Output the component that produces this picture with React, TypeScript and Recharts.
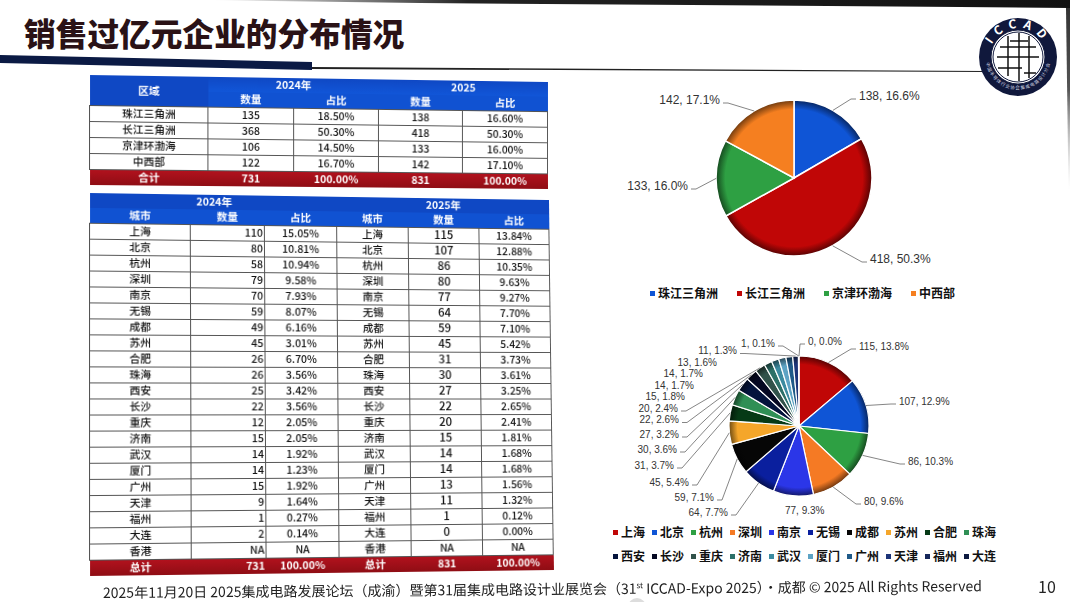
import React from "react"
import { Cell, Legend, Pie, PieChart } from "recharts"

const FONT = '"Noto Sans CJK SC", "Noto Sans", sans-serif'
const LABEL_FONT = '"Liberation Sans", sans-serif'

// region table + pie
const regions = ["珠江三角洲", "长江三角洲", "京津环渤海", "中西部"]
const regionCount2024 = ["135", "368", "106", "122"]
const regionShare2024 = ["18.50%", "50.30%", "14.50%", "16.70%"]
const regionCount2025 = [138, 418, 133, 142]
const regionShare2025 = ["16.60%", "50.30%", "16.00%", "17.10%"]

// city table + pie
const cities = ["上海", "北京", "杭州", "深圳", "南京", "无锡", "成都", "苏州", "合肥", "珠海", "西安", "长沙", "重庆", "济南", "武汉", "厦门", "广州", "天津", "福州", "大连"]
const cityCount2024 = [110, 80, 58, 79, 70, 59, 49, 45, 26, 26, 25, 22, 12, 15, 14, 14, 15, 9, 1, 2]
const cityShare2024 = ["15.05%", "10.81%", "10.94%", "9.58%", "7.93%", "8.07%", "6.16%", "3.01%", "6.70%", "3.56%", "3.42%", "3.56%", "2.05%", "2.05%", "1.92%", "1.23%", "1.92%", "1.64%", "0.27%", "0.14%"]
const cityCount2025 = [115, 107, 86, 80, 77, 64, 59, 45, 31, 30, 27, 22, 20, 15, 14, 14, 13, 11, 1, 0]
const cityShare2025 = ["13.84%", "12.88%", "10.35%", "9.63%", "9.27%", "7.70%", "7.10%", "5.42%", "3.73%", "3.61%", "3.25%", "2.65%", "2.41%", "1.81%", "1.68%", "1.68%", "1.56%", "1.32%", "0.12%", "0.00%"]

const regionColors = ["#0f55d6", "#c00606", "#2ea043", "#f57f20"]
const cityColors = ["#c00606", "#0f55d6", "#2ea043", "#f57a24", "#2b36e8", "#0a1f9e", "#060606", "#f5a62a", "#063a16", "#2f8f55", "#04143c", "#050822", "#31524a", "#2c7068", "#3c8ba0", "#5da3c4", "#1f5a88", "#1c3478", "#16275a", "#0e1a40"]

// label offset from the pie centre: dx, dy, text anchor, leader line
const regionLabels = [
  [65, -82, "start", true],
  [76, 81, "start", true],
  [-106, 8, "end", true],
  [-74, -78, "end", true],
]
const cityLabels = [
  [60, -80, "start", true],
  [100, -25, "start", true],
  [109, 35, "start", true],
  [65, 75, "start", true],
  [-14, 84, "start", false],
  [-71, 86, "end", true],
  [-85, 71, "end", true],
  [-110, 56, "end", true],
  [-125, 39, "end", true],
  [-122, 23, "end", true],
  [-120, 8, "end", true],
  [-120, -6.5, "end", true],
  [-121, -18, "end", true],
  [-114, -29.5, "end", false],
  [-105, -41, "end", false],
  [-96, -52.5, "end", false],
  [-82, -64, "end", false],
  [-62, -75.5, "end", true],
  [-24, -83, "end", true],
  [9, -85, "start", true],
]

function darker(hex: string) {
  const n = parseInt(hex.slice(1), 16)
  const part = (v: number) => Math.round(v * 0.45).toString(16).padStart(2, "0")
  return `#${part((n >> 16) & 255)}${part((n >> 8) & 255)}${part(n & 255)}`
}

// maps a w x h box on to a slightly keystoned quad, the tables were photographed off a screen
function quadMatrix(w: number, h: number, q: number[][]) {
  const [[x0, y0], [x1, y1], [x2, y2], [x3, y3]] = q
  const dx1 = x1 - x2, dx2 = x3 - x2, dx3 = x0 - x1 + x2 - x3
  const dy1 = y1 - y2, dy2 = y3 - y2, dy3 = y0 - y1 + y2 - y3
  const den = dx1 * dy2 - dx2 * dy1
  const g = (dx3 * dy2 - dx2 * dy3) / den
  const k = (dx1 * dy3 - dx3 * dy1) / den
  const a = x1 - x0 + g * x1, b = x3 - x0 + k * x3
  const d = y1 - y0 + g * y1, e = y3 - y0 + k * y3
  return `matrix3d(${[a / w, d / w, 0, g / w, b / h, e / h, 0, k / h, 0, 0, 1, 0, x0, y0, 0, 1].join(",")})`
}

const line = "1px solid #555"
const headStyle: React.CSSProperties = { color: "#fff", fontWeight: 700, padding: 0, textAlign: "center", lineHeight: 1 }
const cellStyle: React.CSSProperties = { border: line, padding: 0, textAlign: "center", lineHeight: 1, color: "#111", fontWeight: 500, overflow: "hidden" }
const totalStyle: React.CSSProperties = { color: "#fff", fontWeight: 700, padding: 0, textAlign: "center", lineHeight: 1 }
const blue = "linear-gradient(180deg,#0f48c4,#1156d8)"
const red = "linear-gradient(180deg,#b3121e,#8f0d14)"

function TableBox({ w, h, quad, widths, fontSize, children }: any) {
  return (
    <div style={{ position: "absolute", left: 0, top: 0, width: w, height: h, transformOrigin: "0 0", transform: quadMatrix(w, h, quad) }}>
      <table style={{ width: w, height: h, tableLayout: "fixed", borderCollapse: "collapse", fontFamily: FONT, fontSize }}>
        <colgroup>
          {widths.map((cw: number, i: number) => <col key={i} style={{ width: cw }} />)}
        </colgroup>
        <tbody>{children}</tbody>
      </table>
    </div>
  )
}

function RegionTable() {
  return (
    <TableBox w={458} h={110} widths={[116, 85, 85, 85, 87]} fontSize={10.5}
      quad={[[89, 75], [547, 82], [547, 189], [89, 185]]}>
      <tr style={{ height: 15, background: blue }}>
        <td rowSpan={2} style={{ ...headStyle, background: "#0f48c4" }}>区域</td>
        <td colSpan={2} style={headStyle}>2024年</td>
        <td colSpan={2} style={headStyle}>2025</td>
      </tr>
      <tr style={{ height: 15, background: "#1052d2" }}>
        {["数量", "占比", "数量", "占比"].map((t, i) => <td key={i} style={headStyle}>{t}</td>)}
      </tr>
      {regions.map((r, i) => (
        <tr key={r} style={{ height: 16 }}>
          <td style={cellStyle}>{r}</td>
          <td style={cellStyle}>{regionCount2024[i]}</td>
          <td style={cellStyle}>{regionShare2024[i]}</td>
          <td style={cellStyle}>{regionCount2025[i]}</td>
          <td style={cellStyle}>{regionShare2025[i]}</td>
        </tr>
      ))}
      <tr style={{ height: 16, background: red }}>
        {["合计", "731", "100.00%", "831", "100.00%"].map((t, i) => <td key={i} style={totalStyle}>{t}</td>)}
      </tr>
    </TableBox>
  )
}

function CityTable() {
  const right: React.CSSProperties = { ...cellStyle, textAlign: "right", paddingRight: 1 }
  return (
    <TableBox w={459} h={382} widths={[98, 73, 72, 72, 72, 72]} fontSize={10.5}
      quad={[[89, 193], [548, 200], [553, 570], [89, 576]]}>
      <tr style={{ height: 15, background: "#0f48c4" }}>
        <td style={headStyle} />
        <td style={{ ...headStyle, textAlign: "left", paddingLeft: 6 }}>2024年</td>
        <td style={headStyle} />
        <td style={headStyle} />
        <td style={headStyle}>2025年</td>
        <td style={headStyle} />
      </tr>
      <tr style={{ height: 15, background: "#1052d2" }}>
        {["城市", "数量", "占比", "城市", "数量", "占比"].map((t, i) => <td key={i} style={headStyle}>{t}</td>)}
      </tr>
      {cities.map((c, i) => (
        <tr key={c} style={{ height: 16 }}>
          <td style={cellStyle}>{c}</td>
          <td style={right}>{cityCount2024[i]}</td>
          <td style={cellStyle}>{cityShare2024[i]}</td>
          <td style={cellStyle}>{c}</td>
          <td style={{ ...cellStyle, fontSize: 11.5 }}>{cityCount2025[i]}</td>
          <td style={cellStyle}>{cityShare2025[i]}</td>
        </tr>
      ))}
      <tr style={{ height: 16 }}>
        <td style={cellStyle}>香港</td>
        <td style={right}>NA</td>
        <td style={cellStyle}>NA</td>
        <td style={cellStyle}>香港</td>
        <td style={cellStyle}>NA</td>
        <td style={cellStyle}>NA</td>
      </tr>
      <tr style={{ height: 16, background: red }}>
        <td style={totalStyle}>总计</td>
        <td style={{ ...totalStyle, textAlign: "right", paddingRight: 1 }}>731</td>
        <td style={totalStyle}>100.00%</td>
        <td style={totalStyle}>总计</td>
        <td style={totalStyle}>831</td>
        <td style={totalStyle}>100.00%</td>
      </tr>
    </TableBox>
  )
}

function makeLabel(spots: any[], fontSize: number) {
  return (props: any) => {
    const { cx, cy, midAngle, outerRadius, value, percent, index } = props
    const [dx, dy, anchor, leader] = spots[index]
    const rad = (-midAngle * Math.PI) / 180
    const ex = cx + outerRadius * Math.cos(rad)
    const ey = cy + outerRadius * Math.sin(rad)
    const tx = cx + dx
    const ty = cy + dy
    const s = anchor === "start" ? -1 : 1
    return (
      <g>
        {leader && (
          <path d={`M${ex},${ey}L${tx + s * 8},${ty + 3}L${tx + s * 3},${ty + 3}`} fill="none" stroke="#666" strokeWidth={0.8} />
        )}
        <text x={tx} y={ty} textAnchor={anchor} dominantBaseline="central" fontSize={fontSize} fontFamily={LABEL_FONT} fill="#333">
          {`${value}, ${(percent * 100).toFixed(1)}%`}
        </text>
      </g>
    )
  }
}

function legendContent(colors: string[], names: string[], itemWidth?: number) {
  return ({ payload }: any) => (
    <div style={{ display: "flex", flexWrap: "wrap", columnGap: itemWidth ? 0 : 19, rowGap: 8, fontFamily: FONT, fontSize: 12, fontWeight: 700, color: "#111", lineHeight: "16px" }}>
      {(payload || []).map((entry: any) => (
        <div key={entry.value} style={{ display: "flex", alignItems: "center", width: itemWidth }}>
          <span style={{ width: 5, height: 5, marginRight: 3, background: colors[names.indexOf(entry.value)] }} />
          {entry.value}
        </div>
      ))}
    </div>
  )
}

const gradients = (prefix: string, colors: string[], cx: number, cy: number, r: number) => (
  <defs>
    {colors.map((c, i) => (
      <radialGradient key={i} id={`${prefix}${i}`} gradientUnits="userSpaceOnUse" cx={cx} cy={cy} r={r}>
        <stop offset="88%" stopColor={c} />
        <stop offset="100%" stopColor={darker(c)} />
      </radialGradient>
    ))}
  </defs>
)

function RegionPie() {
  const data = regions.map((name, i) => ({ name, value: regionCount2025[i] }))
  return (
    <div style={{ position: "absolute", left: 600, top: 70 }}>
      <PieChart width={400} height={240} margin={{ top: 0, right: 0, bottom: 0, left: 0 }}>
        {gradients("rg", regionColors, 194, 108, 78)}
        <Pie data={data} dataKey="value" nameKey="name" cx={194} cy={108} outerRadius={78} startAngle={90} endAngle={-270}
          stroke="#fff" strokeWidth={1.5} isAnimationActive={false} labelLine={false} label={makeLabel(regionLabels, 12)}>
          {data.map((d, i) => <Cell key={d.name} fill={`url(#rg${i})`} />)}
        </Pie>
        <Legend itemSorter={null as any} wrapperStyle={{ left: 50, top: 215, width: 340 }} content={legendContent(regionColors, regions)} />
      </PieChart>
    </div>
  )
}

function CityPie() {
  const data = cities.map((name, i) => ({ name, value: cityCount2025[i] }))
  return (
    <div style={{ position: "absolute", left: 600, top: 325 }}>
      <PieChart width={420} height={250} margin={{ top: 0, right: 0, bottom: 0, left: 0 }}>
        {gradients("cg", cityColors, 199, 101, 70)}
        <Pie data={data} dataKey="value" nameKey="name" cx={199} cy={101} outerRadius={70} startAngle={90} endAngle={-270}
          stroke="#fff" strokeWidth={1.2} isAnimationActive={false} labelLine={false} label={makeLabel(cityLabels, 10)}>
          {data.map((d, i) => <Cell key={d.name} fill={`url(#cg${i})`} />)}
        </Pie>
        <Legend itemSorter={null as any} wrapperStyle={{ left: 13, top: 199, width: 396 }} content={legendContent(cityColors, cities, 39)} />
      </PieChart>
    </div>
  )
}

function Logo() {
  const bars = [
    "M1000,47H1036", "M997,57H1039", "M998,68H1022", "M1008,36V76", "M1019,33V81", "M1029,36V78", "M1010,41H1028", "M1024,73H1036",
  ]
  return (
    <svg style={{ position: "absolute", left: 970, top: 9 }} width={96} height={96} viewBox="970 9 96 96">
      <defs>
        <path id="logoTop" d="M989,57A29,29 0 0 1 1047,57" />
        <path id="logoBottom" d="M985.5,57A32.5,32.5 0 0 0 1050.5,57" />
      </defs>
      <circle cx={1018} cy={57} r={39} fill="#10183c" />
      <circle cx={1018} cy={57} r={27} fill="#fff" stroke="#10183c" strokeWidth={1} />
      <circle cx={1018} cy={57} r={25} fill="none" stroke="#10183c" strokeWidth={1} />
      {bars.map((d) => <path key={d} d={d} stroke="#111" strokeWidth={1.5} fill="none" />)}
      <text fill="#fff" fontFamily={FONT} fontSize={12} fontWeight={700} letterSpacing={6}>
        <textPath href="#logoTop" startOffset="50%" textAnchor="middle">ICCAD</textPath>
      </text>
      <text fill="#cfd3e0" fontFamily={FONT} fontSize={4.5} letterSpacing={0.8}>
        <textPath href="#logoBottom" startOffset="50%" textAnchor="middle">中国半导体行业协会集成电路设计分会</textPath>
      </text>
    </svg>
  )
}

function SlideFrame() {
  return (
    <svg style={{ position: "absolute", left: 0, top: 0 }} width={1070} height={602}>
      <defs>
        <linearGradient id="topBand" x1="0" y1="0" x2="1" y2="0">
          <stop offset="0%" stopColor="#222" stopOpacity={0} />
          <stop offset="30%" stopColor="#222" />
          <stop offset="100%" stopColor="#111" />
        </linearGradient>
        <linearGradient id="sideBand" x1="0" y1="0" x2="0" y2="1">
          <stop offset="0%" stopColor="#333" />
          <stop offset="45%" stopColor="#555" />
          <stop offset="100%" stopColor="#ccc" stopOpacity={0} />
        </linearGradient>
      </defs>
      <polygon points="210,0 1070,0 1070,8 960,7 420,3" fill="url(#topBand)" />
      <polygon points="1066,8 1070,8 1070,190 1068.5,190" fill="url(#sideBand)" />
      <polygon points="0,55 312,62 312,70 0,63" fill="#0b1a44" />
      <polygon points="312,67 985,71 985,72 312,69" fill="#222" />
      <circle cx={637} cy={607} r={9} fill="#ddd" />
    </svg>
  )
}

export default function App() {
  return (
    <div style={{ position: "absolute", left: 0, top: 0, width: 1070, height: 602, background: "#fff", overflow: "hidden" }}>
      <SlideFrame />
      <div style={{ position: "absolute", left: 24, top: 11, fontFamily: FONT, fontSize: 31.7, fontWeight: 900, color: "#2a1216", lineHeight: "42px", whiteSpace: "nowrap" }}>
        销售过亿元企业的分布情况
      </div>
      <Logo />
      <RegionTable />
      <CityTable />
      <RegionPie />
      <CityPie />
      <div style={{ position: "absolute", left: 103, top: 585, fontFamily: FONT, fontSize: 14, color: "#222", lineHeight: "14px", whiteSpace: "nowrap", transformOrigin: "0 50%", transform: "rotate(-0.45deg)" }}>
        2025年11月20日 2025集成电路发展论坛（成渝）暨第31届集成电路设计业展览会（31<sup style={{ fontSize: 8, lineHeight: 0 }}>st</sup> ICCAD-Expo 2025）·成都 © 2025 All Rights Reserved
      </div>
      <div style={{ position: "absolute", left: 1038, top: 575, fontFamily: FONT, fontSize: 16, color: "#222", lineHeight: "22px" }}>10</div>
    </div>
  )
}
